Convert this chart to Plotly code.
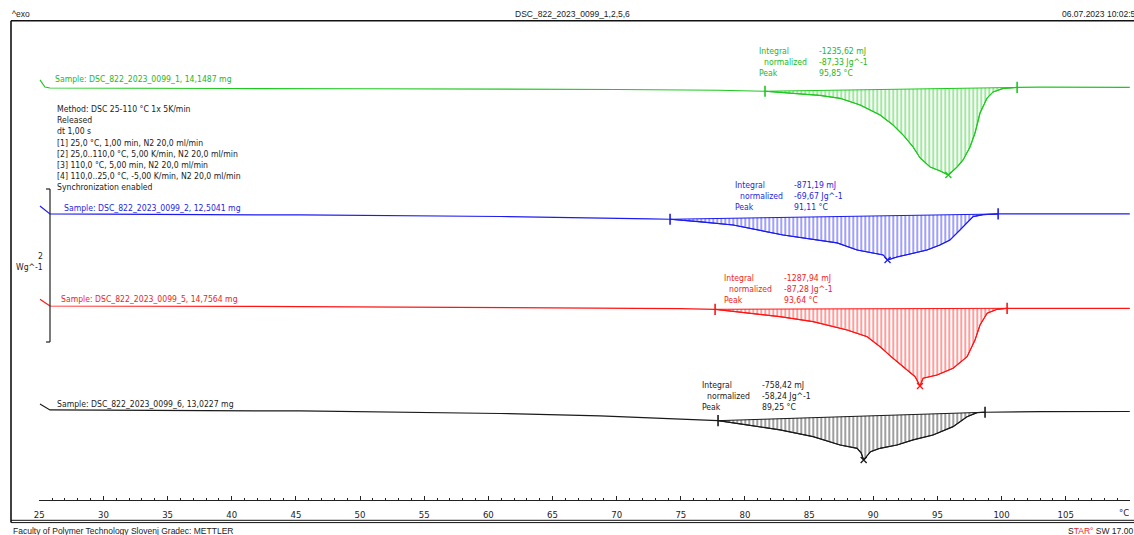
import plotly.graph_objects as go

W, H = 1134, 535
PX_PER_WG = 76.5          # vertical scale of the curves (pixels per W/g)

# ---------------- measurement data ----------------
# temperature in °C, heat flow in W/g (endo down)
T_1 = [25.05, 25.44, 25.83, 30, 40, 50, 60, 70, 78, 81.56, 84.29, 85.85, 87.41, 88.97,
       90.53, 91.54, 92.32, 93.10, 93.65, 94.43, 95.21, 95.85, 96.53, 97.00, 97.54,
       97.93, 98.32, 98.87, 99.34, 100.12, 101.21, 103.0, 110.0]
HF_1 = [0.105, 0.013, 0.0, -0.004, -0.007, -0.010, -0.012, -0.020, -0.030, -0.043,
        -0.078, -0.098, -0.135, -0.222, -0.353, -0.484, -0.614, -0.771, -0.915, -1.033,
        -1.085, -1.137, -1.033, -0.941, -0.771, -0.588, -0.327, -0.131, -0.052, -0.007,
        0.007, 0.010, 0.007]

T_2 = [25.05, 25.83, 45.32, 60.91, 72.60, 74.16, 76.50, 79.07, 82.97, 85.62, 87.18,
       88.74, 89.75, 90.77, 91.11, 91.85, 92.87, 94.19, 95.20, 95.98, 96.76, 97.31,
       97.78, 98.56, 99.73, 103.78, 110.0]
HF_2 = [0.105, 0.0, -0.013, -0.033, -0.065, -0.069, -0.101, -0.144, -0.275, -0.340,
        -0.379, -0.471, -0.506, -0.536, -0.601, -0.562, -0.523, -0.471, -0.405, -0.340,
        -0.209, -0.118, -0.035, -0.009, 0.0, 0.0, 0.0]

T_5 = [25.05, 25.83, 45.32, 60.91, 74.94, 77.67, 80.16, 82.73, 85.31, 87.96, 89.52,
       90.53, 91.54, 92.63, 93.26, 93.64, 93.88, 94.97, 96.22, 97.31, 97.93, 98.32,
       98.87, 99.65, 100.43, 104.56, 110.0]
HF_5 = [0.088, 0.0, -0.007, -0.017, -0.035, -0.043, -0.095, -0.140, -0.205, -0.314,
        -0.401, -0.532, -0.684, -0.837, -0.924, -1.046, -0.945, -0.902, -0.814, -0.663,
        -0.444, -0.248, -0.095, -0.043, -0.030, -0.030, -0.030]

T_6 = [25.05, 25.83, 45.32, 60.91, 68.70, 74.94, 77.90, 80.16, 82.73, 85.31, 87.41,
       88.74, 89.05, 89.25, 89.79, 90.53, 91.85, 93.10, 94.66, 96.22, 97.31, 98.09,
       98.71, 103.0, 110.0]
HF_6 = [0.078, 0.0, -0.013, -0.046, -0.078, -0.118, -0.140, -0.196, -0.261, -0.349,
        -0.458, -0.501, -0.560, -0.654, -0.545, -0.501, -0.458, -0.392, -0.327, -0.218,
        -0.088, -0.035, -0.030, -0.022, -0.020]

SAMPLES = ["DSC_822_2023_0099_1", "DSC_822_2023_0099_2",
           "DSC_822_2023_0099_5", "DSC_822_2023_0099_6"]
MASSES_MG = ["14,1487", "12,5041", "14,7564", "13,0227"]
INTEGRAL_MJ = ["-1235,62", "-871,19", "-1287,94", "-758,42"]
NORMALIZED_JG = ["-87,33", "-69,67", "-87,28", "-58,24"]
PEAK_T = [95.85, 91.11, 93.64, 89.25]
LIMIT_START = [81.56, 74.16, 77.67, 77.90]
LIMIT_END = [101.21, 99.73, 100.43, 98.71]

METHOD_LINES = [
    "Method: DSC 25-110 °C 1x 5K/min",
    "Released",
    "dt 1,00 s",
    "[1] 25,0 °C, 1,00 min, N2 20,0 ml/min",
    "[2] 25,0..110,0 °C, 5,00 K/min, N2 20,0 ml/min",
    "[3] 110,0 °C, 5,00 min, N2 20,0 ml/min",
    "[4] 110,0..25,0 °C, -5,00 K/min, N2 20,0 ml/min",
    "Synchronization enabled",
]

X_TICKS = list(range(25, 111, 5))
X_TICK_TEXT = [str(v) for v in X_TICKS[:-1]] + [""]
X_UNIT = "°C"

# ---------------- layout / style ----------------
TEMPS = [T_1, T_2, T_5, T_6]
FLOWS = [HF_1, HF_2, HF_5, HF_6]
OFFSET_WG = [-1.150, -2.797, -4.000, -5.359]          # vertical stacking of curves
LINE_COLORS = ["#1ec81e", "#1c1cf2", "#ff1414", "#1a1a1a"]
TEXT_COLORS = ["#22b822", "#2626e0", "#f01c1c", "#222222"]
SAMPLE_LABEL_PX = [(53, 79), (62, 208), (59, 299), (55, 404)]
RESULT_LABEL_PX = [(757, 51, 817), (733, 185, 792), (722, 278, 782), (700, 385, 760)]

FONT = "DejaVu Sans Condensed, Liberation Sans, sans-serif"
FS = 8.6


def px_x(p):
    return p / W


def px_y(p):
    return 1 - p / H


def fmt(v):
    return f"{v:.2f}".replace(".", ",")


fig = go.Figure()
annotations = []
shapes = []

for i in range(4):
    T, HF, off, lc, tc = TEMPS[i], FLOWS[i], OFFSET_WG[i], LINE_COLORS[i], TEXT_COLORS[i]
    y = [off + v for v in HF]
    i0 = T.index(LIMIT_START[i])
    i1 = T.index(LIMIT_END[i])
    ip = T.index(PEAK_T[i])

    # integration baseline between the limits
    fig.add_trace(go.Scatter(x=[T[i0], T[i1]], y=[y[i0], y[i1]], mode="lines",
                             line=dict(color=lc, width=1), hoverinfo="skip"))
    # hatched peak area between baseline and curve
    fig.add_trace(go.Scatter(x=T[i0:i1 + 1], y=y[i0:i1 + 1], mode="lines",
                             line=dict(color=lc, width=1), fill="tonexty",
                             fillcolor="rgba(0,0,0,0)",
                             fillpattern=dict(shape="|", size=4, solidity=0.42,
                                              fgcolor=lc, bgcolor="rgba(0,0,0,0)"),
                             hoverinfo="skip"))
    # full curve
    fig.add_trace(go.Scatter(x=T, y=y, mode="lines", line=dict(color=lc, width=1.2),
                             hoverinfo="skip"))
    # integration limits
    fig.add_trace(go.Scatter(x=[T[i0], T[i1]], y=[y[i0], y[i1]], mode="markers",
                             marker=dict(symbol="line-ns", size=8,
                                         line=dict(color=lc, width=1.6)),
                             hoverinfo="skip"))
    # peak marker
    fig.add_trace(go.Scatter(x=[T[ip]], y=[y[ip]], mode="markers",
                             marker=dict(symbol="x-thin", size=6,
                                         line=dict(color=lc, width=1.3)),
                             hoverinfo="skip"))

    sx, sy = SAMPLE_LABEL_PX[i]
    annotations.append(dict(x=px_x(sx), y=px_y(sy), xref="paper", yref="paper",
                            text=f"Sample: {SAMPLES[i]}, {MASSES_MG[i]} mg",
                            showarrow=False, xanchor="left", yanchor="middle",
                            font=dict(family=FONT, size=FS, color=tc)))
    rx, ry, vx = RESULT_LABEL_PX[i]
    rows = [("Integral", f"{INTEGRAL_MJ[i]} mJ", 0),
            ("normalized", f"{NORMALIZED_JG[i]} Jg^-1", 5),
            ("Peak", f"{fmt(PEAK_T[i])} °C", 0)]
    for k, (lab, val, ind) in enumerate(rows):
        yy = px_y(ry + 11 * k)
        annotations.append(dict(x=px_x(rx + ind), y=yy, xref="paper", yref="paper",
                                text=lab, showarrow=False, xanchor="left",
                                yanchor="middle",
                                font=dict(family=FONT, size=FS, color=tc)))
        annotations.append(dict(x=px_x(vx), y=yy, xref="paper", yref="paper",
                                text=val, showarrow=False, xanchor="left",
                                yanchor="middle",
                                font=dict(family=FONT, size=FS, color=tc)))

# method description
for k, line in enumerate(METHOD_LINES):
    annotations.append(dict(x=px_x(55), y=px_y(109 + 11.2 * k), xref="paper", yref="paper",
                            text=line, showarrow=False, xanchor="left", yanchor="middle",
                            font=dict(family=FONT, size=FS, color="#222222")))

# heat-flow scale bar (2 W/g)
bar_top, bar_bot = 189, 342
shapes += [
    dict(type="line", xref="paper", yref="paper", x0=px_x(50), x1=px_x(50),
         y0=px_y(bar_top), y1=px_y(bar_bot), line=dict(color="#222", width=1.2)),
    dict(type="line", xref="paper", yref="paper", x0=px_x(46), x1=px_x(50),
         y0=px_y(bar_top), y1=px_y(bar_top), line=dict(color="#222", width=1.2)),
    dict(type="line", xref="paper", yref="paper", x0=px_x(46), x1=px_x(50),
         y0=px_y(bar_bot), y1=px_y(bar_bot), line=dict(color="#222", width=1.2)),
]
annotations += [
    dict(x=px_x(45), y=px_y(256), xref="paper", yref="paper", text="2", showarrow=False,
         xanchor="right", yanchor="middle", font=dict(family=FONT, size=FS, color="#222")),
    dict(x=px_x(45), y=px_y(267), xref="paper", yref="paper", text="Wg^-1",
         showarrow=False, xanchor="right", yanchor="middle",
         font=dict(family=FONT, size=FS, color="#222")),
    # temperature unit at the end of the axis
    dict(x=px_x(1124), y=px_y(512), xref="paper", yref="paper", text=X_UNIT,
         showarrow=False, xanchor="center", yanchor="middle",
         font=dict(family=FONT, size=9.5, color="#222")),
]

# frame
shapes += [
    dict(type="line", xref="paper", yref="paper", x0=px_x(11), x1=1,
         y0=px_y(20.7), y1=px_y(20.7), line=dict(color="#111", width=1.6)),
    dict(type="line", xref="paper", yref="paper", x0=px_x(11), x1=px_x(11),
         y0=px_y(20.7), y1=px_y(522.5), line=dict(color="#111", width=1.6)),
    dict(type="line", xref="paper", yref="paper", x0=px_x(11), x1=1,
         y0=px_y(520.3), y1=px_y(520.3), line=dict(color="#111", width=1)),
    dict(type="line", xref="paper", yref="paper", x0=px_x(11), x1=1,
         y0=px_y(522.6), y1=px_y(522.6), line=dict(color="#111", width=1)),
]

# header / footer
HDR = "Liberation Sans"
annotations += [
    dict(x=px_x(10), y=px_y(14), xref="paper", yref="paper", text="^exo", showarrow=False,
         xanchor="left", yanchor="middle", font=dict(family=HDR, size=8.5, color="#222")),
    dict(x=px_x(572), y=px_y(14), xref="paper", yref="paper",
         text="DSC_822_2023_0099_1,2,5,6", showarrow=False, xanchor="center",
         yanchor="middle", font=dict(family=HDR, size=8.5, color="#222")),
    dict(x=px_x(1060), y=px_y(14), xref="paper", yref="paper", text="06.07.2023 10:02:56",
         showarrow=False, xanchor="left", yanchor="middle",
         font=dict(family=HDR, size=8.5, color="#222")),
    dict(x=px_x(11), y=px_y(531), xref="paper", yref="paper",
         text="Faculty of Polymer Technology Slovenj Gradec: METTLER", showarrow=False,
         xanchor="left", yanchor="middle", font=dict(family=HDR, size=8.5, color="#222")),
    dict(x=px_x(1066), y=px_y(531), xref="paper", yref="paper",
         text="S<span style='color:#e8231f'>TAR</span><span style='color:#e8231f'>°</span> SW 17.00",
         showarrow=False, xanchor="left", yanchor="middle",
         font=dict(family=HDR, size=8.5, color="#222")),
]

fig.update_layout(
    width=W, height=H,
    margin=dict(l=0, r=0, t=0, b=0, autoexpand=False),
    paper_bgcolor="white", plot_bgcolor="white",
    showlegend=False,
    annotations=annotations,
    shapes=shapes,
    xaxis=dict(domain=[39.3 / W, 1129.9 / W], range=[25, 110], tickmode="array",
               tickvals=X_TICKS, ticktext=X_TICK_TEXT, ticks="inside", ticklen=4,
               tickwidth=1, tickcolor="#222", showline=True, linecolor="#222",
               linewidth=1, showgrid=False, zeroline=False, ticklabelstandoff=6,
               automargin=False,
               tickfont=dict(family=FONT, size=9.5, color="#222"),
               minor=dict(dtick=1, ticks="inside", ticklen=2, tickcolor="#222",
                          tickwidth=1, showgrid=False)),
    yaxis=dict(domain=[35 / H, 1], range=[-500 / PX_PER_WG, 0], visible=False,
               showgrid=False, zeroline=False, automargin=False),
)

fig.write_html("out.html")
